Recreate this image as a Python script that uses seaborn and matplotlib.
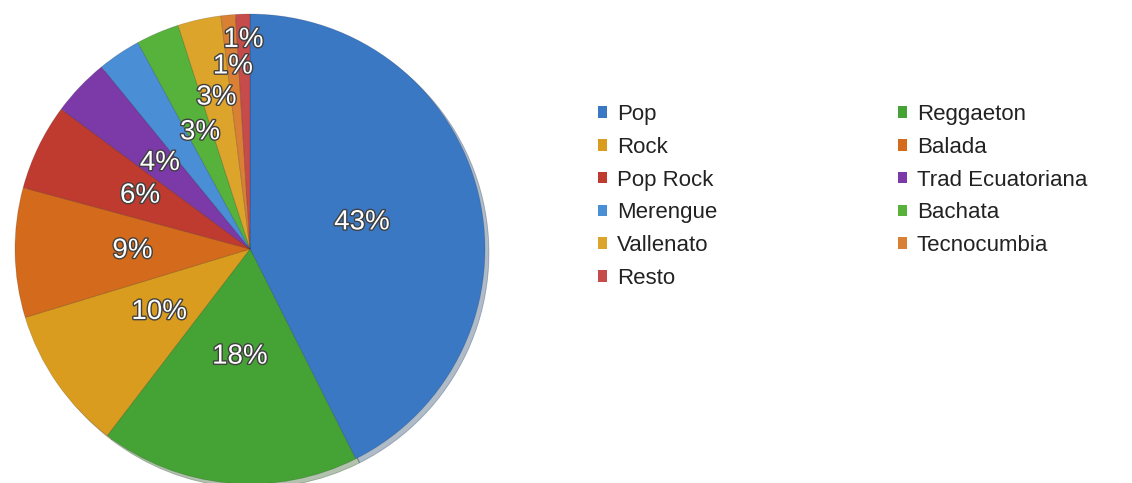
import matplotlib
matplotlib.use("Agg")
import matplotlib.pyplot as plt
import matplotlib.patheffects as pe
from matplotlib.patches import Patch
import numpy as np
import seaborn as sns

# ---- data ----
genres = ["Pop", "Reggaeton", "Rock", "Balada", "Pop Rock", "Trad Ecuatoriana",
          "Merengue", "Bachata", "Vallenato", "Tecnocumbia", "Resto"]
shares = [43, 18, 10, 9, 6, 4, 3, 3, 3, 1, 1]
shown_labels = ["43%", "18%", "10%", "9%", "6%", "4%", "", "3%", "3%", "1%", "1%"]
colors_hex = ["#3a78c4", "#45a235", "#d99c1e", "#d36a1c", "#bf3b2f", "#7b3aa8",
              "#4a8ed6", "#57b23c", "#dca42b", "#d98034", "#c64b4b"]
label_radius = [0.49, 0.46, 0.47, 0.50, 0.52, 0.53, 0.55, 0.54, 0.66, 0.78, 0.89]

sns.set_theme(style="white")
plt.rcParams["font.family"] = ["Liberation Sans", "DejaVu Sans"]
palette = sns.color_palette(colors_hex)

W, H = 1132, 483
fig = plt.figure(figsize=(W / 100, H / 100), dpi=100)
fig.patch.set_facecolor("white")

# pie axes: centre ~ (250, 249) px, radius ~235 px
cx, cy, r = 250, 249, 235
ax = fig.add_axes([(cx - r) / W, (H - cy - r) / H, 2 * r / W, 2 * r / H])
wedges, _ = ax.pie(shares, colors=palette, startangle=90, counterclock=False,
                   radius=1.0, wedgeprops=dict(linewidth=0.6, edgecolor=(0, 0, 0, 0.15)),
                   shadow=dict(ox=0.012, oy=-0.012, shade=0.5, alpha=0.35))
ax.set_xlim(-1.0, 1.0)
ax.set_ylim(-1.0, 1.0)
ax.set_aspect("equal")
ax.axis("off")

stroke = [pe.withStroke(linewidth=2.0, foreground="#404040")]
for w, lab, rf in zip(wedges, shown_labels, label_radius):
    if not lab:
        continue
    ang = np.deg2rad((w.theta1 + w.theta2) / 2)
    ax.text(rf * np.cos(ang), rf * np.sin(ang), lab, ha="center", va="center",
            fontsize=20, color="white", path_effects=stroke)

# legend: row-wise order in 2 columns
order = list(range(0, len(genres), 2)) + list(range(1, len(genres), 2))
handles = [Patch(facecolor=palette[i], edgecolor="none") for i in order]
labels = [genres[i] for i in order]
leg = fig.legend(handles, labels, ncol=2, loc="upper left",
                 bbox_to_anchor=(598 / W, 1 - 104 / H), frameon=False,
                 fontsize=16, handlelength=0.42, handleheight=0.42,
                 handletextpad=0.45, labelspacing=0.53, columnspacing=8.1,
                 borderpad=0, borderaxespad=0)
for t in leg.get_texts():
    t.set_color("#222222")

fig.savefig("out.png", dpi=100, facecolor="white")
